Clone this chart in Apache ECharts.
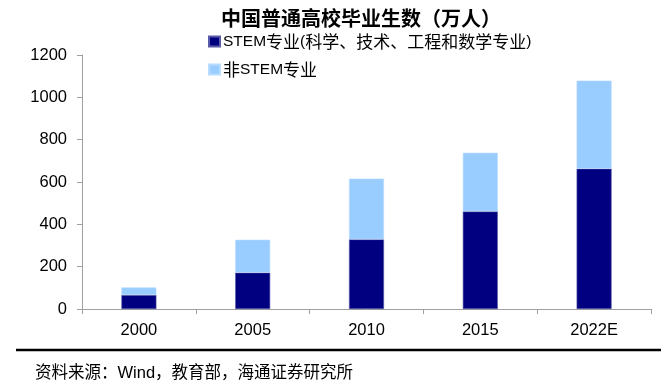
<!DOCTYPE html>
<html>
<head>
<meta charset="utf-8">
<script src="https://cdn.jsdelivr.net/npm/echarts@6/dist/echarts.min.js"></script>
<style>
html,body{margin:0;padding:0;background:#fff;}
#chart{width:661px;height:389px;}
</style>
</head>
<body>
<div id="chart"></div>
<script>
const titleText = '中国普通高校毕业生数（万人）';
const sourceText = '资料来源：Wind，教育部，海通证券研究所';
const categories = ['2000', '2005', '2010', '2015', '2022E'];
const seriesNames = ['STEM专业(科学、技术、工程和数学专业)', '非STEM专业'];
const stemValues = [66, 172, 329, 461, 663];
const nonStemValues = [36, 155, 287, 277, 416];
const yTicks = [0, 200, 400, 600, 800, 1000, 1200];

const LATIN = '"Liberation Sans", Arial, sans-serif';
const CJK = '"Noto Sans CJK SC", sans-serif';

function richWrap(name) {
  return name.match(/[\x00-\x7f]+|[^\x00-\x7f]+/g)
    .map(s => (/^[\x00-\x7f]+$/.test(s) ? '{a|' + s + '}' : '{b|' + s + '}'))
    .join('');
}

const chart = echarts.init(document.getElementById('chart'), null, {renderer: 'canvas'});
chart.setOption({
  animation: false,
  backgroundColor: '#ffffff',
  title: [{
    text: titleText,
    left: 216,
    top: 3,
    textStyle: {fontFamily: CJK, fontSize: 20, fontWeight: 'bold', color: '#000'}
  }, {
    text: sourceText,
    left: 30,
    top: 360,
    textStyle: {fontFamily: LATIN + ',' + CJK, fontSize: 16.5, fontWeight: 'normal', color: '#000'}
  }],
  legend: {
    orient: 'vertical',
    left: 203,
    top: 28,
    itemWidth: 11,
    itemHeight: 10,
    itemGap: 11,
    icon: 'rect',
    data: seriesNames,
    formatter: richWrap,
    textStyle: {
      color: '#000',
      padding: [0, 0, 0, -2],
      rich: {
        a: {fontFamily: LATIN, fontSize: 15.5, lineHeight: 16, color: '#000'},
        b: {fontFamily: CJK, fontSize: 17, lineHeight: 16, color: '#000'}
      }
    }
  },
  grid: {left: 82, right: 10, top: 55, bottom: 80, containLabel: false},
  xAxis: {
    type: 'category',
    data: categories,
    boundaryGap: true,
    axisLine: {show: true, lineStyle: {color: '#a0a0a0', width: 1}},
    axisTick: {show: true, length: 5, lineStyle: {color: '#a0a0a0'}},
    axisLabel: {margin: 13, fontFamily: LATIN, fontSize: 16.5, color: '#000'},
    splitLine: {show: false}
  },
  yAxis: {
    type: 'value',
    min: yTicks[0],
    max: yTicks[yTicks.length - 1],
    interval: 200,
    axisLine: {show: true, lineStyle: {color: '#a0a0a0', width: 1}},
    axisTick: {show: true, length: 5, lineStyle: {color: '#a0a0a0'}},
    axisLabel: {margin: 15, fontFamily: LATIN, fontSize: 16.5, color: '#000', formatter: v => String(v)},
    splitLine: {show: false}
  },
  series: [{
    name: seriesNames[0],
    type: 'bar',
    stack: 'total',
    data: stemValues,
    barWidth: 35,
    itemStyle: {color: '#000080', borderColor: '#5a5aa8', borderWidth: 0.6}
  }, {
    name: seriesNames[1],
    type: 'bar',
    stack: 'total',
    data: nonStemValues,
    barWidth: 35,
    itemStyle: {color: '#99ccff', borderColor: '#b8dcff', borderWidth: 0.6}
  }],
  graphic: [{
    type: 'line',
    shape: {x1: 16, y1: 350, x2: 661, y2: 350},
    style: {stroke: '#000', lineWidth: 2.5}
  }]
});
</script>
</body>
</html>
